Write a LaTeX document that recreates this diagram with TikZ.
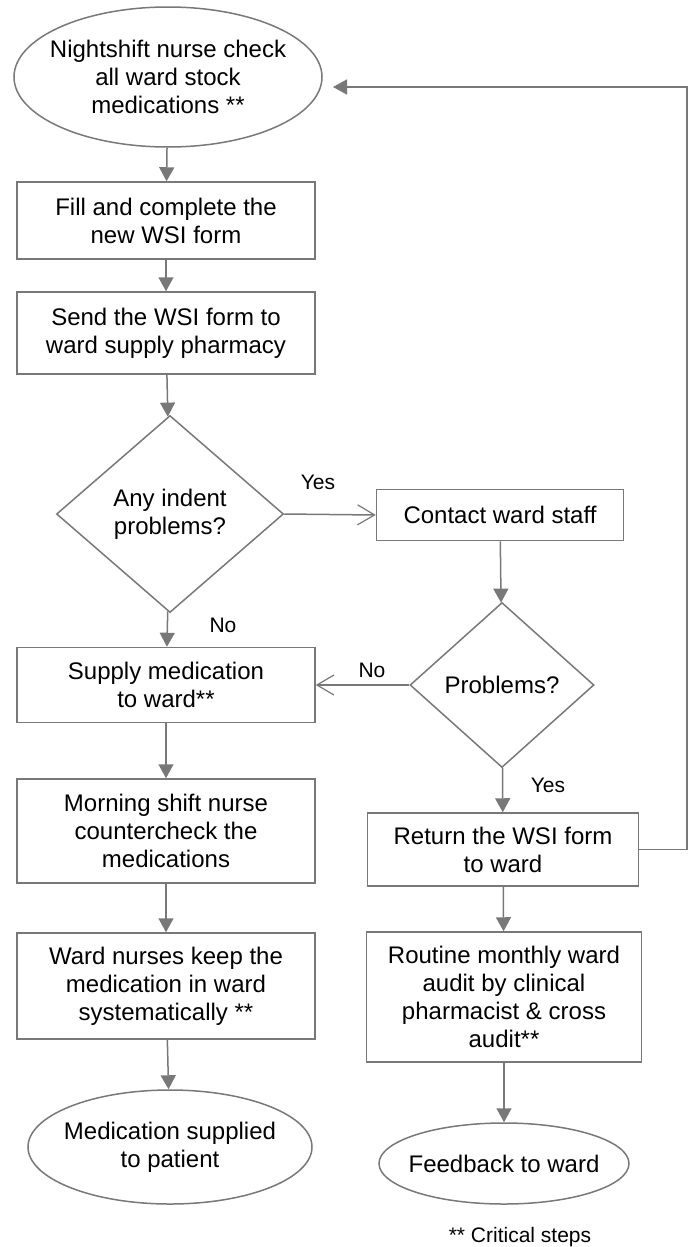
\documentclass[tikz,border=0pt]{standalone}
\usepackage{fontspec}
\setmainfont{Liberation Sans}
\usetikzlibrary{shapes.geometric, arrows.meta}
\definecolor{linegray}{RGB}{120,120,120}

\begin{document}
\begin{tikzpicture}[
    x=1pt, y=-1pt,
    every node/.style={font=\fontsize{24}{28}\selectfont},
    terminal/.style={draw=linegray, line width=1.5pt, ellipse, inner ysep=0pt, align=center},
    process/.style={draw=linegray, line width=1.5pt, rectangle, minimum width=298pt, align=center},
    decision/.style={draw=linegray, line width=1.5pt, diamond, inner sep=0pt, align=center},
    answer/.style={font=\fontsize{21}{25}\selectfont},
    arrow/.style={-{Triangle[length=14pt, width=15pt]}, draw=linegray, line width=1.5pt},
    barb/.style={-{Straight Barb[length=17pt, width=20pt, line width=1.2pt]}, draw=linegray, line width=1.5pt}
]
\useasboundingbox (0,0) rectangle (692,1247);

\node[terminal, inner xsep=-10pt, minimum width=308pt, minimum height=140pt] (night) at (168,77) {Nightshift nurse check\\all ward stock\\medications **};
\node[process, minimum height=77pt] (fill) at (166,220.5) {Fill and complete the\\new WSI form};
\node[process, minimum height=82pt] (send) at (166,333) {Send the WSI form to\\ward supply pharmacy};
\node[decision, minimum width=227pt, minimum height=197pt] (indent) at (170,514) {Any indent\\problems?};
\node[process, minimum height=75pt] (supply) at (166,685) {Supply medication\\to ward**};
\node[process, minimum height=104pt] (morning) at (166,831) {Morning shift nurse\\countercheck the\\medications};
\node[process, minimum height=106pt] (keep) at (166,986) {Ward nurses keep the\\medication in ward\\systematically **};
\node[terminal, inner xsep=-7pt, minimum width=284pt, minimum height=114pt] (patient) at (170,1147) {Medication supplied\\to patient};

\node[process, minimum width=247pt, minimum height=51pt] (contact) at (500,515) {Contact ward staff};
\node[decision, minimum width=184pt, minimum height=165pt] (prob) at (502,685) {Problems?};
\node[process, minimum width=271pt, minimum height=73pt] (return) at (503,849.5) {Return the WSI form\\to ward};
\node[process, minimum width=275pt, minimum height=130pt] (audit) at (504,997) {Routine monthly ward\\audit by clinical\\pharmacist \& cross\\audit**};
\node[terminal, inner xsep=-8pt, minimum width=250pt, minimum height=81pt] (feedback) at (504,1163.5) {Feedback to ward};

\node[answer] (yes1) at (318,482) {Yes};
\node[answer] (no1) at (223,625) {No};
\node[answer] (no2) at (372,670) {No};
\node[answer] (yes2) at (548,785) {Yes};
\node[answer] (note) at (520,1237) {** Critical steps};

\coordinate (corner) at (687,87);
\coordinate (tip) at (333,87);

\draw[arrow] (night) -- (fill);
\draw[arrow] (fill) -- (send);
\draw[arrow] (send) -- (indent);
\draw[arrow] (indent) -- (supply);
\draw[arrow] (supply) -- (morning);
\draw[arrow] (morning) -- (keep);
\draw[arrow] (keep) -- (patient);
\draw[barb] (indent.east) -- (contact.west);
\draw[arrow] (contact) -- (prob);
\draw[barb] (prob.west) -- (supply.east);
\draw[arrow] (prob) -- (return);
\draw[arrow] (return) -- (audit);
\draw[arrow] (audit) -- (feedback);
\draw[arrow] (return.east) -| (corner) -- (tip);

\end{tikzpicture}
\end{document}
